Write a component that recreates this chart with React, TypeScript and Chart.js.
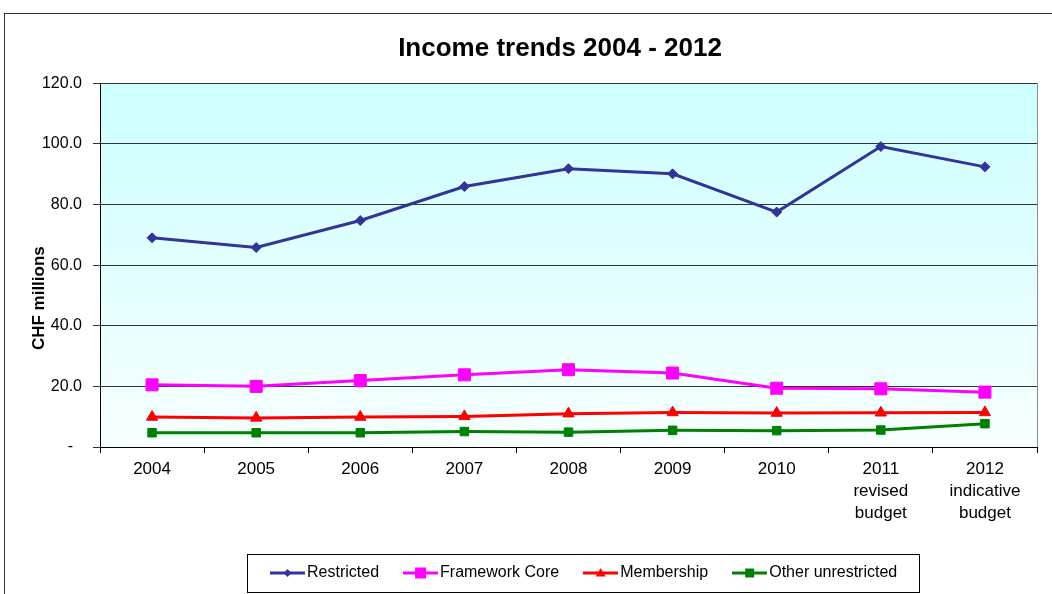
import React, { useEffect, useRef } from 'react';
import { Chart, registerables } from 'chart.js';

Chart.register(...registerables);

// ---- data ----
const categories: (string | string[])[] = [
  '2004', '2005', '2006', '2007', '2008', '2009', '2010',
  ['2011', 'revised', 'budget'],
  ['2012', 'indicative', 'budget'],
];
const seriesNames = ['Restricted', 'Framework Core', 'Membership', 'Other unrestricted'];
const restricted = [69.0, 65.8, 74.7, 85.9, 91.8, 90.1, 77.5, 99.1, 92.4];
const frameworkCore = [20.5, 20.0, 21.9, 23.8, 25.5, 24.4, 19.4, 19.2, 18.1];
const membership = [9.9, 9.6, 9.9, 10.1, 11.0, 11.4, 11.2, 11.3, 11.4];
const otherUnrestricted = [4.7, 4.7, 4.7, 5.1, 4.9, 5.5, 5.4, 5.6, 7.7];
const yMin = 0;
const yMax = 120;
const yStep = 20;
const chartTitle = 'Income trends 2004 - 2012';
const yAxisTitle = 'CHF millions';

const FONT = "'Liberation Sans', Arial, Helvetica, sans-serif";
const LEG_PAD = 30;
const LEG_BOX = 23;
const SYM_W = 35;

function makeSymbol(color: string, shape: string, r: number): HTMLCanvasElement {
  const c = document.createElement('canvas');
  c.width = SYM_W;
  c.height = 16;
  const g = c.getContext('2d')!;
  const cy = 8;
  const cx = SYM_W / 2;
  g.strokeStyle = color;
  g.fillStyle = color;
  g.lineWidth = 3;
  g.beginPath();
  g.moveTo(0, cy);
  g.lineTo(SYM_W, cy);
  g.stroke();
  g.beginPath();
  if (shape === 'diamond') {
    g.moveTo(cx, cy - r);
    g.lineTo(cx + r, cy);
    g.lineTo(cx, cy + r);
    g.lineTo(cx - r, cy);
  } else if (shape === 'square') {
    g.rect(cx - r, cy - r, 2 * r, 2 * r);
  } else {
    g.moveTo(cx, cy - r);
    g.lineTo(cx + r, cy + r * 0.7);
    g.lineTo(cx - r, cy + r * 0.7);
  }
  g.closePath();
  g.fill();
  return c;
}

const customPlugin = {
  id: 'excelLook',
  afterLayout(chart: any) {
    const t = chart.titleBlock;
    if (t) {
      const d = 560 - (t.left + t.right) / 2;
      t.left += d;
      t.right += d;
    }
    const lg = chart.legend;
    if (lg && lg.lineWidths) {
      const startX = (lg.left + LEG_PAD + lg.right - lg.lineWidths[0]) / 2;
      const imgLeft = startX + LEG_BOX / 2 - SYM_W / 2;
      const d = 270 - imgLeft;
      lg.left += d;
      lg.right += d;
    }
  },
  beforeDraw(chart: any) {
    const { ctx, chartArea: a } = chart;
    if (!a) return;
    const grad = ctx.createLinearGradient(0, a.top, 0, a.bottom);
    grad.addColorStop(0, '#ccffff');
    grad.addColorStop(1, '#f7ffff');
    ctx.save();
    ctx.fillStyle = grad;
    ctx.fillRect(a.left, a.top, a.right - a.left, a.bottom - a.top);
    ctx.restore();
  },
  beforeDatasetsDraw(chart: any) {
    const { ctx, chartArea: a } = chart;
    ctx.save();
    ctx.strokeStyle = '#8c8c8c';
    ctx.lineWidth = 1;
    ctx.beginPath();
    ctx.moveTo(Math.round(a.right) + 0.5, a.top);
    ctx.lineTo(Math.round(a.right) + 0.5, a.bottom);
    ctx.stroke();
    ctx.restore();
  },
  afterDraw(chart: any) {
    const lg = chart.legend;
    if (!lg || !lg.legendHitBoxes || !lg.legendHitBoxes.length) return;
    const hb = lg.legendHitBoxes;
    const first = hb[0];
    const last = hb[hb.length - 1];
    const left = first.left + LEG_BOX / 2 - SYM_W / 2 - 23;
    const right = last.left + last.width + 22;
    const top = lg.top + LEG_PAD - 11;
    const bottom = lg.top + LEG_PAD + 27;
    const { ctx } = chart;
    ctx.save();
    ctx.strokeStyle = '#000';
    ctx.lineWidth = 1;
    ctx.strokeRect(Math.round(left) + 0.5, Math.round(top) + 0.5, Math.round(right - left), Math.round(bottom - top));
    ctx.restore();
  },
};

export default function App() {
  const ref = useRef<HTMLCanvasElement>(null);

  useEffect(() => {
    if (!ref.current) return;
    Chart.defaults.font.family = FONT;
    Chart.defaults.color = '#000';

    const symbols = [
      makeSymbol('#333399', 'diamond', 4),
      makeSymbol('#ff00ff', 'square', 5.5),
      makeSymbol('#ff0000', 'triangle', 5),
      makeSymbol('#008000', 'square', 4.5),
    ];

    const chart = new Chart(ref.current, {
      type: 'line',
      data: {
        labels: categories as any,
        datasets: [
          {
            label: seriesNames[0],
            data: restricted,
            borderColor: '#333399',
            backgroundColor: '#333399',
            borderWidth: 3,
            pointStyle: 'rectRot',
            pointRadius: 5,
            pointBorderWidth: 1,
          },
          {
            label: seriesNames[1],
            data: frameworkCore,
            borderColor: '#ff00ff',
            backgroundColor: '#ff00ff',
            borderWidth: 3,
            pointStyle: 'rect',
            pointRadius: 8.5,
            pointBorderWidth: 1,
          },
          {
            label: seriesNames[2],
            data: membership,
            borderColor: '#ff0000',
            backgroundColor: '#ff0000',
            borderWidth: 3,
            pointStyle: 'triangle',
            pointRadius: 6.5,
            pointBorderWidth: 1,
          },
          {
            label: seriesNames[3],
            data: otherUnrestricted,
            borderColor: '#008000',
            backgroundColor: '#008000',
            borderWidth: 3,
            pointStyle: 'rect',
            pointRadius: 6,
            pointBorderWidth: 1,
          },
        ],
      },
      options: {
        responsive: false,
        animation: false,
        devicePixelRatio: 1,
        layout: { padding: { left: 0, right: 15, top: 0, bottom: 3 } },
        plugins: {
          tooltip: { enabled: false },
          title: {
            display: true,
            text: chartTitle,
            color: '#000',
            font: { size: 26, weight: 'bold', family: FONT, lineHeight: 1.2 },
            padding: { top: 33, bottom: 19 },
          },
          legend: {
            display: true,
            position: 'bottom',
            labels: {
              usePointStyle: true,
              pointStyleWidth: LEG_BOX,
              padding: LEG_PAD,
              color: '#000',
              font: { size: 16, family: FONT },
              generateLabels: (ch: any) => {
                const items = (Chart.defaults.plugins.legend.labels as any).generateLabels(ch);
                return items.map((it: any, i: number) => ({ ...it, pointStyle: symbols[i], fontColor: '#000' }));
              },
            },
          },
        },
        scales: {
          x: {
            offset: true,
            afterFit: (s: any) => { s.height = 88; },
            grid: {
              display: true,
              offset: true,
              drawOnChartArea: false,
              drawTicks: true,
              tickLength: 6,
              color: '#000',
            },
            border: { display: true, color: '#000', width: 1 },
            ticks: {
              color: '#000',
              padding: 6,
              maxRotation: 0,
              autoSkip: false,
              font: { size: 17, family: FONT, lineHeight: 1.27 },
            },
          },
          y: {
            min: yMin,
            max: yMax,
            afterFit: (s: any) => { s.width = 100; },
            grid: {
              color: '#333',
              lineWidth: 1,
              drawTicks: true,
              tickLength: 7,
            },
            border: { display: true, color: '#000', width: 1 },
            ticks: {
              stepSize: yStep,
              color: '#000',
              padding: 11,
              font: { size: 16, family: FONT },
              callback: (v: any) => (Number(v) === 0 ? '-  ' : Number(v).toFixed(1)),
            },
            title: {
              display: true,
              text: yAxisTitle + '              ',
              color: '#000',
              font: { size: 17, weight: 'bold', family: FONT, lineHeight: 1.2 },
              padding: { top: 29, bottom: 0 },
            },
          },
        },
      },
      plugins: [customPlugin],
    });
    return () => chart.destroy();
  }, []);

  return (
    <div
      style={{
        position: 'absolute',
        left: 0,
        top: 0,
        width: 1052,
        height: 594,
        overflow: 'hidden',
        background: '#fff',
      }}
    >
      <div
        style={{
          position: 'absolute',
          left: 4,
          top: 13,
          width: 1200,
          height: 800,
          border: '1px solid #333',
        }}
      />
      <canvas
        ref={ref}
        width={1052}
        height={594}
        style={{ position: 'absolute', left: 0, top: 0, width: 1052, height: 594 }}
      />
    </div>
  );
}
